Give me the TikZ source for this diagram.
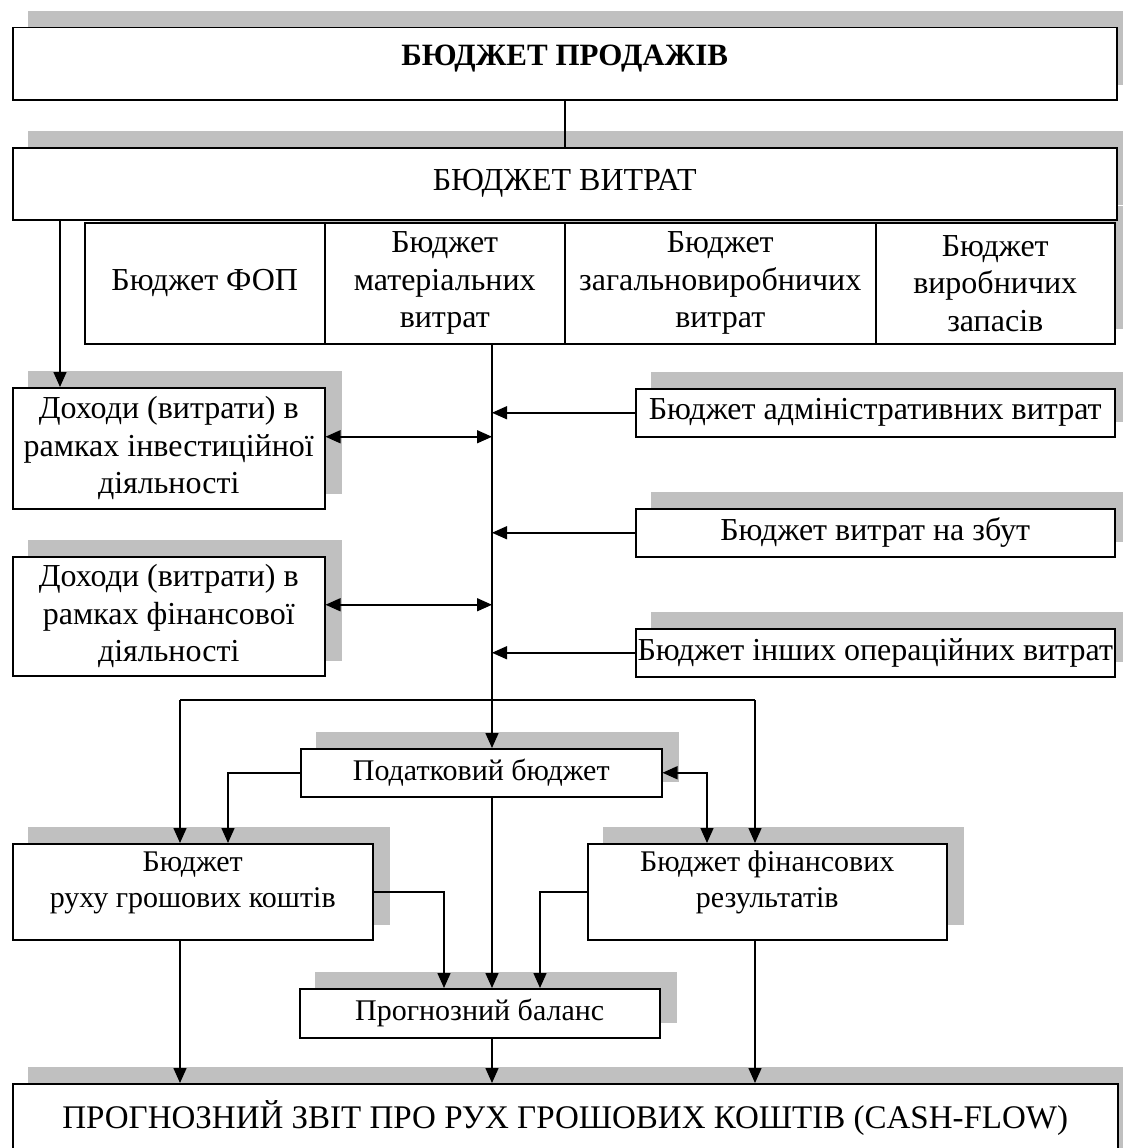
\documentclass[tikz,border=0pt]{standalone}
\usepackage{fontspec}
\setmainfont{Liberation Serif}
\usetikzlibrary{arrows.meta,backgrounds,calc}
\definecolor{shcol}{RGB}{192,192,192}
\newcommand\bigfont{\fontsize{32}{37.5}\selectfont}
\newcommand\smallfont{\fontsize{30}{36}\selectfont}
\newcommand\shadowof[2]{\fill[shcol] ([shift={(16,-16)}]#1.south west) rectangle ([shift={(16,-16)}]#2.north east);}
\tikzset{
  box/.style={draw, line width=1.5pt, fill=white, inner sep=0pt, align=center, anchor=north west, font=\bigfont},
  sbox/.style={box, font=\smallfont},
  conn/.style={line width=1.5pt},
  arr/.style={conn, -{Triangle[length=15pt,width=13pt]}},
  darr/.style={conn, {Triangle[length=15pt,width=13pt]}-{Triangle[length=15pt,width=13pt]}}
}
\begin{document}
\begin{tikzpicture}[x=1pt,y=-1pt]
\clip (0,0) rectangle (1123,1148);
\useasboundingbox (0,0) rectangle (1123,1148);
% boxes
\node[box, minimum width=1104pt, minimum height=72pt,
  label={[name=topt, font=\fontsize{31}{36}\selectfont\bfseries, yshift=5pt]center:БЮДЖЕТ ПРОДАЖІВ}] (top) at (12,27) {};
\node[box, minimum width=1104pt, minimum height=72pt, font=\fontsize{32}{36}\selectfont] (bv) at (12,147) {БЮДЖЕТ ВИТРАТ};
\node[box, minimum width=240pt, minimum height=121pt] (c1) at (84,222) {Бюджет ФОП};
\node[box, minimum width=240pt, minimum height=121pt] (c2) at (324,222) {Бюджет\\матеріальних\\витрат};
\node[box, minimum width=311pt, minimum height=121pt] (c3) at (564,222) {Бюджет\\загальновиробничих\\витрат};
\node[box, minimum width=239pt, minimum height=121pt] (c4) at (875,222) {Бюджет\\виробничих\\запасів};
\node[box, minimum width=312pt, minimum height=121pt] (inv) at (12,387) {Доходи (витрати) в\\рамках інвестиційної\\діяльності};
\node[box, minimum width=312pt, minimum height=119pt] (fin) at (12,556) {Доходи (витрати) в\\рамках фінансової\\діяльності};
\node[box, minimum width=479pt, minimum height=48pt] (adm) at (635,388) {Бюджет адміністративних витрат};
\node[box, minimum width=479pt, minimum height=48pt] (zbut) at (635,508) {Бюджет витрат на збут};
\node[box, minimum width=479pt, minimum height=48pt] (inshi) at (635,628) {Бюджет інших операційних витрат};
\node[sbox, minimum width=361pt, minimum height=48pt] (pod) at (300,748) {Податковий бюджет};
\node[sbox, minimum width=360pt, minimum height=96pt,
  label={[name=rgkt, font=\smallfont, align=center, yshift=9pt]center:Бюджет\\руху грошових коштів}] (rgk) at (12,843) {};
\node[sbox, minimum width=359pt, minimum height=96pt,
  label={[name=bfrt, font=\smallfont, align=center, yshift=9pt]center:Бюджет фінансових\\результатів}] (bfr) at (587,843) {};
\node[sbox, minimum width=360pt, minimum height=49pt] (prog) at (299,988) {Прогнозний баланс};
\node[box, minimum width=1105pt, minimum height=100pt,
  label={[name=cft, font=\fontsize{33}{38}\selectfont, yshift=16pt]center:ПРОГНОЗНИЙ ЗВІТ ПРО РУХ ГРОШОВИХ КОШТІВ (CASH-FLOW)}] (cf) at (12,1083) {};
% shadows
\begin{pgfonlayer}{background}
\fill[white] (0,0) rectangle (1123,1148);
\shadowof{top}{top}
\shadowof{bv}{bv}
\shadowof{c1}{c4}
\shadowof{inv}{inv}
\shadowof{fin}{fin}
\shadowof{adm}{adm}
\shadowof{zbut}{zbut}
\shadowof{inshi}{inshi}
\shadowof{pod}{pod}
\shadowof{rgk}{rgk}
\shadowof{bfr}{bfr}
\shadowof{prog}{prog}
\shadowof{cf}{cf}
\end{pgfonlayer}
% coordinates
\coordinate (mx) at (492,0);
\coordinate (hL) at (180,700);
\coordinate (hR) at (755,700);
% connectors
\draw[conn] (top.south) -- (bv.north);
\draw[arr] ([xshift=48pt]bv.south west) -- ([xshift=48pt]inv.north west);
\draw[arr] (c2.south -| mx) -- (pod.north -| mx);
\draw[arr] (adm.west) -- (adm.west -| mx);
\draw[arr] (zbut.west) -- (zbut.west -| mx);
\draw[arr] (inshi.west) -- (inshi.west -| mx);
\draw[darr] ([yshift=11.5pt]inv.east) -- ([yshift=11.5pt]inv.east -| mx);
\draw[darr] ([yshift=11.5pt]fin.east) -- ([yshift=11.5pt]fin.east -| mx);
\draw[conn] (hL) -- (hR);
\draw[arr] (hL) -- (hL |- rgk.north);
\draw[arr] (hR) -- (hR |- bfr.north);
\draw[arr] (pod.west) -| ([xshift=216pt]rgk.north west);
\draw[darr] (pod.east) -| ([xshift=120pt]bfr.north west);
\draw[arr] (pod.south -| mx) -- (prog.north -| mx);
\draw[arr] (rgk.east) -| ([xshift=145pt]prog.north west);
\draw[arr] (bfr.west) -| ([xshift=241pt]prog.north west);
\draw[arr] ([xshift=168pt]rgk.south west) -- ([xshift=168pt]rgk.south west |- cf.north);
\draw[arr] (prog.south -| mx) -- (mx |- cf.north);
\draw[arr] ([xshift=168pt]bfr.south west) -- ([xshift=168pt]bfr.south west |- cf.north);
\end{tikzpicture}
\end{document}
